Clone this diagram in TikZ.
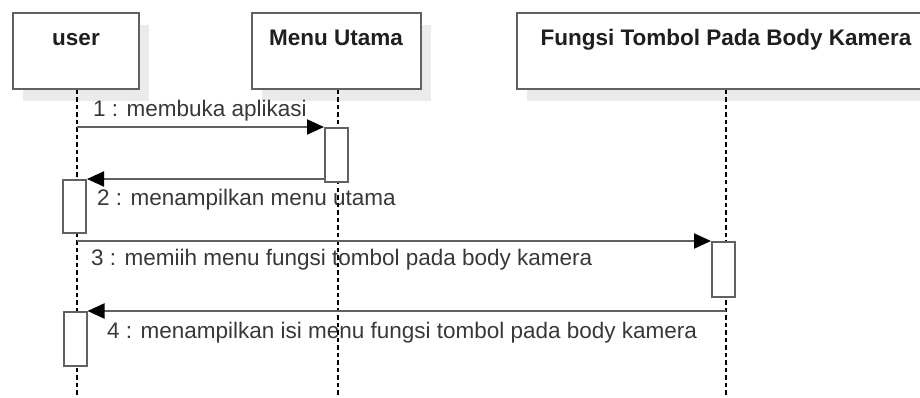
\documentclass[tikz,border=0pt]{standalone}
\usepackage{fontspec}
\setmainfont{Liberation Sans}
\usetikzlibrary{arrows.meta,shadows}
\begin{document}
\begin{tikzpicture}[x=1pt,y=-1pt,
  objbox/.style={draw=black!62, line width=2pt, fill=white, inner xsep=0pt, inner ysep=0pt,
    anchor=north, text height=33pt, text depth=43pt,
    font=\fontsize{22.5}{27}\selectfont\bfseries, text=black!88,
    general shadow={fill=black!8, shadow xshift=10pt, shadow yshift=-12pt}},
  lifeline/.style={black, line width=1.3pt, dash pattern=on 4.5pt off 3pt},
  actbox/.style={draw=black!62, line width=2pt, fill=white, minimum width=23pt, minimum height=54pt, inner sep=0pt},
  msg/.style={draw=black!62, line width=2pt, -{Triangle[length=17pt,width=15pt,fill=black,color=black]}},
  msglabel/.style={anchor=base west, inner sep=0pt, text=black!78, font=\fontsize{22.5}{27}\selectfont}
]
\useasboundingbox (0,0) rectangle (920,398);
\clip (0,0) rectangle (920,398);

% participants
\node[objbox, minimum width=126pt] (user) at (76,12) {user};
\node[objbox, minimum width=169pt] (menu) at (336,12) {Menu Utama};
\node[objbox, minimum width=418pt] (fungsi) at (726,12) {Fungsi Tombol Pada Body Kamera};

% message labels
\node[msglabel] (l1) at (93,117) {1 : membuka aplikasi};
\node[msglabel] (l2) at (97,205) {2 : menampilkan menu utama};
\node[msglabel] (l3) at (91,265) {3 : memiih menu fungsi tombol pada body kamera};
\node[msglabel] (l4) at (107,338) {4 : menampilkan isi menu fungsi tombol pada body kamera};

% lifelines
\coordinate (userEnd) at (77,398);
\coordinate (menuEnd) at (338,398);
\coordinate (fungsiEnd) at (726,398);
\draw[lifeline] (userEnd |- user.south) -- (userEnd);
\draw[lifeline] (menuEnd |- menu.south) -- (menuEnd);
\draw[lifeline] (fungsiEnd |- fungsi.south) -- (fungsiEnd);

% activation bars
\node[actbox] (menuAct) at (336.5,155) {};
\node[actbox, minimum height=53pt] (userAct1) at (74.5,206.5) {};
\node[actbox, minimum height=55pt] (fungsiAct) at (723.5,269.5) {};
\node[actbox] (userAct2) at (75,339) {};

% messages
\draw[msg] (userEnd |- menuAct.north) -- (menuAct.north west);
\draw[msg] (menuAct.west |- userAct1.north) -- (userAct1.north east);
\draw[msg] (userEnd |- fungsiAct.north) -- (fungsiAct.north west);
\draw[msg] (fungsiEnd |- userAct2.north) -- (userAct2.north east);
\end{tikzpicture}
\end{document}
